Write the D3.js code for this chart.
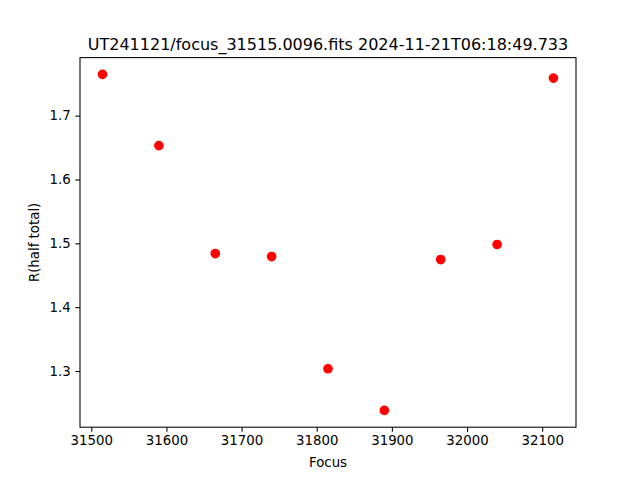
<!DOCTYPE html>
<html><head><meta charset="utf-8">
<script src="https://cdn.jsdelivr.net/npm/d3@7"></script>
<style>body{margin:0;background:#fff}svg{display:block;font-family:"DejaVu Sans",sans-serif}</style>
</head><body><svg id="c" width="640" height="480"></svg>
<script>
const focus = [31515, 31590, 31665, 31740, 31815, 31890, 31965, 32040, 32115];
const rHalf = [1.7646, 1.6531, 1.4840, 1.4793, 1.3036, 1.2383, 1.4746, 1.4981, 1.7588];
const xTicks = [31500, 31600, 31700, 31800, 31900, 32000, 32100];
const yTicks = [1.3, 1.4, 1.5, 1.6, 1.7];
const title = "UT241121/focus_31515.0096.fits 2024-11-21T06:18:49.733";

const L = 80, R = 576, T = 57.6, B = 427.2;
const svg = d3.select("#c");
const xmin = d3.min(focus), xmax = d3.max(focus), xr = xmax - xmin;
const ymin = d3.min(rHalf), ymax = d3.max(rHalf), yr = ymax - ymin;
const x = d3.scaleLinear().domain([xmin - 0.05*xr, xmax + 0.05*xr]).range([L, R]);
const y = d3.scaleLinear().domain([ymin - 0.05*yr, ymax + 0.05*yr]).range([B, T]);

const xAxis = svg.append("g").attr("transform", `translate(0,${B})`)
  .call(d3.axisBottom(x).tickValues(xTicks).tickFormat(d3.format("d")).tickSize(4.67).tickPadding(3.5));
const yAxis = svg.append("g").attr("transform", `translate(${L},0)`)
  .call(d3.axisLeft(y).tickValues(yTicks).tickFormat(d3.format(".1f")).tickSize(4.67).tickPadding(4.67));
[xAxis, yAxis].forEach(g => {
  g.select(".domain").remove();
  g.selectAll("line").attr("stroke", "#000").attr("stroke-width", 1.07);
  g.selectAll("text").attr("font-size", "13.33px").attr("fill", "#000").attr("font-family", "DejaVu Sans");
});

svg.append("rect").attr("x", L).attr("y", T).attr("width", R - L).attr("height", B - T)
  .attr("fill", "none").attr("stroke", "#000").attr("stroke-width", 1.07);

svg.append("g").selectAll("circle").data(focus).join("circle")
  .attr("cx", d => x(d)).attr("cy", (d, i) => y(rHalf[i])).attr("r", 4.17)
  .attr("fill", "#ff0000").attr("stroke", "#ff0000").attr("stroke-width", 1.33);

svg.append("text").attr("x", (L + R) / 2).attr("y", 50).attr("text-anchor", "middle")
  .attr("font-size", "16px").text(title);
svg.append("text").attr("x", (L + R) / 2).attr("y", 467).attr("text-anchor", "middle")
  .attr("font-size", "13.33px").text("Focus");
svg.append("text").attr("transform", `translate(39,${(T + B) / 2}) rotate(-90)`).attr("text-anchor", "middle")
  .attr("font-size", "13.33px").text("R(half total)");
</script></body></html>
